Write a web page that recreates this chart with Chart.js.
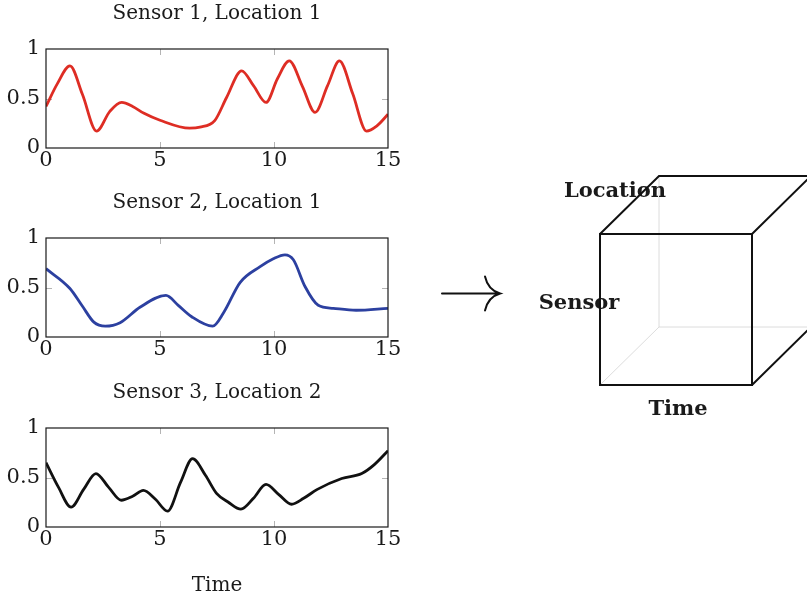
<!DOCTYPE html>
<html>
<head>
<meta charset="utf-8">
<script src="https://cdn.jsdelivr.net/npm/chart.js@4.4.1/dist/chart.umd.min.js"></script>
<style>
  body { margin: 0; background: #fff; }
  #page { position: relative; width: 807px; height: 599px; overflow: hidden; }
  canvas { position: absolute; }
</style>
</head>
<body>
<div id="page">
  <canvas id="cube" width="387" height="280" style="left:420px;top:150px"></canvas>
  <canvas id="s1" width="400" height="180" style="left:0;top:0"></canvas>
  <canvas id="s2" width="400" height="180" style="left:0;top:189px"></canvas>
  <canvas id="s3" width="400" height="220" style="left:0;top:379px"></canvas>
</div>
<script>
'use strict';

// readings over time, one pair of arrays per sensor
const s1Time  = [0, 0.5, 1.05, 1.6, 2.22, 2.8, 3.32, 3.8, 4.3, 5.0, 6.3, 6.75, 7.41, 7.92, 8.58, 9.1, 9.65, 10.15, 10.67, 11.25, 11.8, 12.35, 12.87, 13.45, 14.06, 14.5, 15];
const s1Value = [0.42, 0.65, 0.83, 0.54, 0.17, 0.37, 0.46, 0.42, 0.35, 0.28, 0.20, 0.21, 0.28, 0.51, 0.78, 0.63, 0.46, 0.70, 0.88, 0.62, 0.36, 0.63, 0.88, 0.55, 0.17, 0.22, 0.34];

const s2Time  = [0, 1.05, 1.6, 2.1, 2.6, 3.25, 4.12, 5.26, 5.8, 6.39, 7.31, 7.8, 8.51, 9.39, 9.97, 10.48, 10.85, 11.36, 11.94, 12.6, 13.6, 15];
const s2Value = [0.69, 0.49, 0.31, 0.15, 0.11, 0.145, 0.30, 0.42, 0.32, 0.205, 0.11, 0.25, 0.55, 0.71, 0.79, 0.83, 0.78, 0.51, 0.32, 0.29, 0.27, 0.29];

const s3Time  = [0, 0.55, 1.1, 1.65, 2.19, 2.75, 3.3, 3.8, 4.27, 4.8, 5.33, 5.9, 6.43, 7.0, 7.48, 8.0, 8.55, 9.1, 9.65, 10.2, 10.77, 11.3, 11.9, 12.97, 13.85, 14.4, 15];
const s3Value = [0.65, 0.40, 0.20, 0.38, 0.54, 0.40, 0.27, 0.31, 0.37, 0.28, 0.16, 0.45, 0.69, 0.52, 0.34, 0.25, 0.18, 0.29, 0.43, 0.33, 0.23, 0.29, 0.38, 0.49, 0.54, 0.63, 0.77];

const xTicks = [0, 5, 10, 15];
const yTicks = [0, 0.5, 1];

const serif = 'DejaVu Serif';

// box around the plot plus short grey ticks pointing inward
const framePlugin = {
  id: 'frame',
  beforeDatasetsDraw(chart) {
    const {ctx, chartArea: a, scales} = chart;
    ctx.save();
    ctx.strokeStyle = '#b4b4b4';
    ctx.lineWidth = 1;
    ctx.beginPath();
    xTicks.slice(1, -1).forEach(v => {
      const x = Math.round(scales.x.getPixelForValue(v)) + 0.5;
      ctx.moveTo(x, a.top); ctx.lineTo(x, a.top + 6);
      ctx.moveTo(x, a.bottom); ctx.lineTo(x, a.bottom - 6);
    });
    yTicks.slice(1, -1).forEach(v => {
      const y = Math.round(scales.y.getPixelForValue(v)) + 0.5;
      ctx.moveTo(a.left, y); ctx.lineTo(a.left + 6, y);
      ctx.moveTo(a.right, y); ctx.lineTo(a.right - 6, y);
    });
    ctx.stroke();
    ctx.restore();
  },
  afterDatasetsDraw(chart) {
    const {ctx, chartArea: a} = chart;
    ctx.save();
    ctx.strokeStyle = '#1a1a1a';
    ctx.lineWidth = 1.2;
    ctx.strokeRect(a.left, a.top, a.right - a.left, a.bottom - a.top);
    ctx.restore();
  }
};

function sensorChart(id, title, times, values, color, xTitle) {
  const points = times.map((t, i) => ({x: t, y: values[i]}));
  return new Chart(document.getElementById(id).getContext('2d'), {
    type: 'line',
    data: {
      datasets: [{
        data: points,
        borderColor: color,
        borderWidth: 2.8,
        pointRadius: 0,
        cubicInterpolationMode: 'monotone',
        fill: false
      }]
    },
    options: {
      responsive: false,
      animation: false,
      devicePixelRatio: 1,
      layout: {padding: {left: 0, right: 12, top: 0, bottom: 0}},
      plugins: {
        legend: {display: false},
        tooltip: {enabled: false},
        title: {
          display: true,
          text: title,
          fullSize: false,
          color: '#1a1a1a',
          font: {family: serif, size: 20, weight: 'normal', lineHeight: 1.2},
          padding: {top: 2, bottom: 23}
        }
      },
      scales: {
        x: {
          type: 'linear',
          min: 0,
          max: 15,
          border: {display: false},
          grid: {display: false, drawTicks: false},
          afterBuildTicks: s => { s.ticks = xTicks.map(v => ({value: v})); },
          afterFit: s => {
            s.height = xTitle ? 72 : 32;
            s.paddingLeft = 0;
            s.paddingRight = 0;
          },
          ticks: {
            color: '#1a1a1a',
            padding: 0,
            maxRotation: 0,
            font: {family: serif, size: 21},
            callback: v => String(v)
          },
          title: {
            display: !!xTitle,
            text: xTitle || '',
            color: '#1a1a1a',
            font: {family: serif, size: 20, lineHeight: 1.2},
            padding: {top: 0, bottom: 1}
          }
        },
        y: {
          min: 0,
          max: 1,
          border: {display: false},
          grid: {display: false, drawTicks: false},
          afterBuildTicks: s => { s.ticks = yTicks.map(v => ({value: v})); },
          afterFit: s => { s.width = 46; },
          ticks: {
            color: '#1a1a1a',
            padding: 6,
            font: {family: serif, size: 21},
            callback: v => String(v)
          }
        }
      }
    },
    plugins: [framePlugin]
  });
}

sensorChart('s1', 'Sensor 1, Location 1', s1Time, s1Value, '#de2d24', null);
sensorChart('s2', 'Sensor 2, Location 1', s2Time, s2Value, '#2c40a0', null);
sensorChart('s3', 'Sensor 3, Location 2', s3Time, s3Value, '#111111', 'Time');

// the arrow and the sensor x location x time cube
function drawCube() {
  const ctx = document.getElementById('cube').getContext('2d');
  ctx.translate(-420, -150);

  // long right arrow
  ctx.strokeStyle = '#111';
  ctx.lineWidth = 2;
  ctx.lineCap = 'round';
  ctx.beginPath();
  ctx.moveTo(442, 293.5);
  ctx.lineTo(499, 293.5);
  ctx.moveTo(485, 276.5);
  ctx.quadraticCurveTo(488, 290, 500, 293.5);
  ctx.quadraticCurveTo(488, 297, 485, 310.5);
  ctx.stroke();

  const front = {l: 600, r: 752, t: 234, b: 385};
  const dx = 59, dy = -58;

  // hidden edges
  ctx.strokeStyle = '#dcdcdc';
  ctx.lineWidth = 1;
  ctx.beginPath();
  ctx.moveTo(front.l + dx, front.t + dy);
  ctx.lineTo(front.l + dx, front.b + dy);
  ctx.lineTo(front.r + dx, front.b + dy);
  ctx.moveTo(front.l + dx, front.b + dy);
  ctx.lineTo(front.l, front.b);
  ctx.stroke();

  // axis names
  ctx.fillStyle = '#1a1a1a';
  ctx.font = 'bold 21px "' + serif + '"';
  ctx.textAlign = 'center';
  ctx.textBaseline = 'alphabetic';
  ctx.fillText('Location', 615, 197);
  ctx.fillText('Sensor', 579, 309);
  ctx.fillText('Time', 678, 415);

  // visible edges
  ctx.strokeStyle = '#111';
  ctx.lineWidth = 2;
  ctx.lineCap = 'butt';
  ctx.lineJoin = 'miter';
  ctx.strokeRect(front.l, front.t, front.r - front.l, front.b - front.t);
  ctx.beginPath();
  ctx.moveTo(front.l, front.t);
  ctx.lineTo(front.l + dx, front.t + dy);
  ctx.lineTo(front.r + dx, front.t + dy);
  ctx.lineTo(front.r, front.t);
  ctx.moveTo(front.r + dx, front.t + dy);
  ctx.lineTo(front.r + dx, front.b + dy);
  ctx.lineTo(front.r, front.b);
  ctx.stroke();
}
drawCube();
</script>
</body>
</html>
